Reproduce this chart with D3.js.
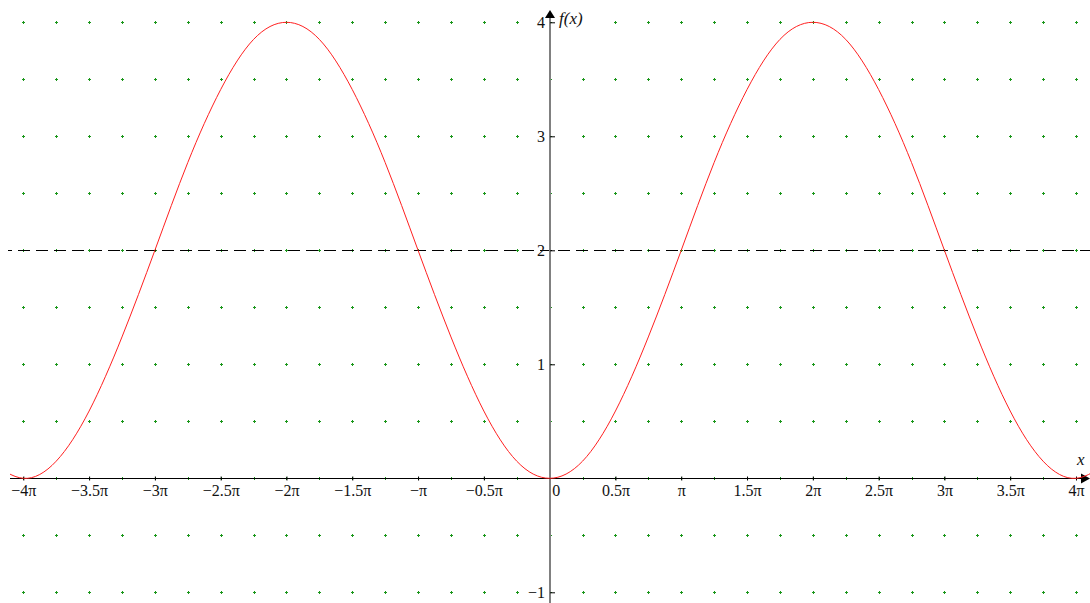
<!DOCTYPE html>
<html>
<head>
<meta charset="utf-8">
<script src="https://cdn.jsdelivr.net/npm/d3@7"></script>
<style>
  body { margin: 0; background: #fff; }
  svg { display: block; }
  text { font-family: "Liberation Serif", "Times New Roman", serif; }
</style>
</head>
<body>
<svg width="1090" height="603"></svg>
<script>
// curve samples (x in multiples of pi)
let xPi = [-4.25, -4, -3.75, -3.5, -3.25, -3, -2.75, -2.5, -2.25, -2, -1.75, -1.5, -1.25, -1, -0.75, -0.5, -0.25,
           0, 0.25, 0.5, 0.75, 1, 1.25, 1.5, 1.75, 2, 2.25, 2.5, 2.75, 3, 3.25, 3.5, 3.75, 4, 4.25];
let fx = [0.15, 0, 0.15, 0.59, 1.24, 2, 2.77, 3.41, 3.85, 4, 3.85, 3.41, 2.77, 2, 1.24, 0.59, 0.15,
          0, 0.15, 0.59, 1.24, 2, 2.77, 3.41, 3.85, 4, 3.85, 3.41, 2.77, 2, 1.24, 0.59, 0.15, 0, 0.15];
let refLine = 2;

let xTicks = [-4, -3.5, -3, -2.5, -2, -1.5, -1, -0.5, 0, 0.5, 1, 1.5, 2, 2.5, 3, 3.5, 4];
let xTickLabels = ["−4π", "−3.5π", "−3π", "−2.5π", "−2π", "−1.5π", "−π", "−0.5π", "0",
                   "0.5π", "π", "1.5π", "2π", "2.5π", "3π", "3.5π", "4π"];
let yTicks = [-1, 1, 2, 3, 4];
let yTickLabels = ["−1", "1", "2", "3", "4"];

let svg = d3.select("svg");
let W = 1090, H = 603;

let x = d3.scaleLinear().domain([-4, 4]).range([23.3, 1076]);
let y = d3.scaleLinear().domain([-1, 4]).range([592.3, 22.3]);

// dotted grid (green crosses every pi/4 and every 0.5)
let gx = d3.range(-4, 4.01, 0.25), gy = d3.range(-1, 4.01, 0.5);
let dots = svg.append("g").attr("id", "grid")
  .attr("stroke", "#1a961a").attr("stroke-width", 1).attr("shape-rendering", "crispEdges");
gx.forEach(function(a) {
  gy.forEach(function(b) {
    let px = Math.round(x(a)), py = Math.round(y(b));
    dots.append("line").attr("x1", px - 1).attr("x2", px + 2).attr("y1", py + 0.5).attr("y2", py + 0.5);
    dots.append("line").attr("x1", px + 0.5).attr("x2", px + 0.5).attr("y1", py - 1).attr("y2", py + 2);
  });
});

// dashed line y = 2
svg.append("line")
  .attr("x1", 8).attr("x2", W)
  .attr("y1", Math.round(y(refLine)) + 0.5).attr("y2", Math.round(y(refLine)) + 0.5)
  .attr("stroke", "#000").attr("stroke-width", 1)
  .attr("stroke-dasharray", "12,6").attr("stroke-dashoffset", 8);

// y axis (gray)
let x0 = Math.round(x(0));
svg.append("line")
  .attr("x1", x0).attr("x2", x0).attr("y1", H).attr("y2", 16)
  .attr("stroke", "#808080").attr("stroke-width", 2);
svg.append("path")
  .attr("d", "M" + x0 + ",10 L" + (x0 + 5) + ",18 L" + (x0 - 5) + ",18 Z")
  .attr("fill", "#000");

// x axis
let y0 = Math.round(y(0)) + 0.5;
svg.append("line")
  .attr("x1", 10).attr("x2", 1084).attr("y1", y0).attr("y2", y0)
  .attr("stroke", "#000").attr("stroke-width", 1);
svg.append("path")
  .attr("d", "M1090," + y0 + " L1081," + (y0 - 5) + " L1081," + (y0 + 5) + " Z")
  .attr("fill", "#000");

// x ticks + labels
let xAxis = d3.axisBottom(x)
  .tickValues(xTicks)
  .tickFormat(function(d, i) { return xTickLabels[i]; })
  .tickSize(2).tickPadding(4);
let xGroup = svg.append("g").attr("id", "x-axis")
  .attr("transform", "translate(0," + y0 + ")")
  .call(xAxis);
xGroup.select(".domain").remove();
xGroup.selectAll(".tick line").attr("y1", -2).attr("stroke", "#000");
xGroup.selectAll(".tick")
  .filter(function(d) { return d === 0; })
  .select("line").remove();
xGroup.selectAll(".tick text")
  .attr("fill", "#111")
  .style("font-family", "'Liberation Serif', serif")
  .style("font-size", "16px")
  .attr("dx", function(d) { return d === 0 ? 6 : 0; });

// y ticks + labels
let yAxis = d3.axisLeft(y)
  .tickValues(yTicks)
  .tickFormat(function(d, i) { return yTickLabels[i]; })
  .tickSize(-5).tickPadding(5);
let yGroup = svg.append("g").attr("id", "y-axis")
  .attr("transform", "translate(" + x0 + ",0)")
  .call(yAxis);
yGroup.select(".domain").remove();
yGroup.selectAll(".tick line").attr("stroke", "#000");
yGroup.selectAll(".tick text")
  .attr("fill", "#111")
  .style("font-family", "'Liberation Serif', serif")
  .style("font-size", "16px");

// the curve
svg.append("clipPath").attr("id", "clip")
  .append("rect").attr("x", 10).attr("y", 0).attr("width", W - 10).attr("height", H);
let line = d3.line()
  .x(function(d, i) { return x(d); })
  .y(function(d, i) { return y(fx[i]); })
  .curve(d3.curveNatural);
svg.append("path")
  .attr("clip-path", "url(#clip)")
  .attr("d", line(xPi))
  .attr("fill", "none")
  .attr("stroke", "#ff2020")
  .attr("stroke-width", 1);

// axis names (white box behind f(x) hides the grid cross there)
svg.append("rect").attr("x", 558).attr("y", 8).attr("width", 28).attr("height", 22).attr("fill", "#fff");
svg.append("text")
  .attr("x", 559).attr("y", 24)
  .style("font-size", "17px").style("font-style", "italic")
  .attr("fill", "#111")
  .text("f(x)");
svg.append("text")
  .attr("x", 1077).attr("y", 465)
  .style("font-size", "17px").style("font-style", "italic")
  .attr("fill", "#111")
  .text("x");
</script>
</body>
</html>
